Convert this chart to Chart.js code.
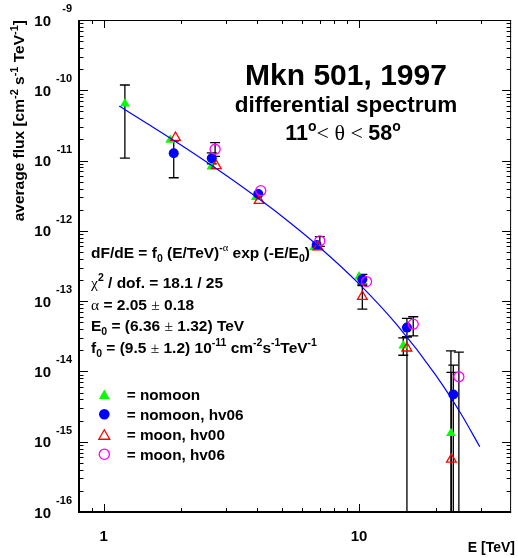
<!DOCTYPE html>
<html><head><meta charset="utf-8">
<style>html,body{margin:0;padding:0;background:#fff}canvas{display:block}</style>
<script src="https://cdn.jsdelivr.net/npm/chart.js@4.4.1/dist/chart.umd.min.js"></script>
</head><body>
<canvas id="c" width="518" height="558"></canvas>
<script>
// ---- data ----
const nomoonE    = [1.21, 1.82, 2.64, 3.94, 6.66, 10.0, 14.9, 22.9];
const nomoonF    = [6.45e-11, 1.96e-11, 8.2e-12, 3.0e-12, 5.8e-13, 2.23e-13, 2.33e-14, 1.32e-15];
const nomoonLo   = [1.08e-11, null, null, null, null, null, 1.7e-14, 1e-17];
const nomoonHi   = [1.19e-10, null, null, null, null, null, 3.0e-14, 1.96e-14];

const hv06E      = [1.88, 2.65, 4.03, 6.82, 10.3, 15.4, 23.4];
const hv06F      = [1.27e-11, 1.08e-11, 3.35e-12, 6.3e-13, 2.05e-13, 4.2e-14, 4.7e-15];
const hv06Lo     = [5.7e-12, 9.0e-12, null, null, 1.75e-13, 3.1e-14, 1e-17];
const hv06Hi     = [1.9e-11, 1.29e-11, null, null, 2.4e-13, 5.7e-14, 1.23e-14];

const moonE      = [1.91, 2.76, 4.06, 6.9, 10.3, 15.4, 23.0];
const moonF      = [2.12e-11, 8.4e-12, 2.69e-12, 5.9e-13, 1.16e-13, 2.14e-14, 5.6e-16];
const moonLo     = [null, null, null, null, 7.7e-14, 1e-17, 1e-17];
const moonHi     = [null, null, null, null, 1.66e-13, 3.1e-14, 9.7e-15];

const moonHv06E  = [2.73, 4.12, 7.02, 10.7, 16.3, 24.6];
const moonHv06F  = [1.45e-11, 3.73e-12, 7.2e-13, 1.9e-13, 4.7e-14, 8.4e-15];
const moonHv06Lo = [1.15e-11, null, 6.0e-13, null, 3.2e-14, 1e-17];
const moonHv06Hi = [1.8e-11, null, 8.3e-13, null, 6.0e-14, 1.88e-14];

const fitE    = [1.15, 1.5, 2, 3, 4, 5, 7, 10, 14, 20, 25, 29.7];
const fitFlux = [5.96e-11, 3.27e-11, 1.68e-11, 6.24e-12, 2.95e-12, 1.60e-12, 5.85e-13, 1.76e-13, 4.70e-14, 8.81e-15, 2.54e-15, 8.5e-16];

const seriesLabels = ["= nomoon", "= nomoon, hv06", "= moon, hv00", "= moon, hv06"];
const yTickExponents = [-16, -15, -14, -13, -12, -11, -10, -9];
const xTickLabels = [1, 10];
const xMinorTicks = [0.9, 2, 3, 4, 5, 6, 7, 8, 9, 20, 30];

const X_MIN = 0.8, X_MAX = 39.4, Y_MIN = 1e-16, Y_MAX = 1e-9;

const pts = (xs, ys) => xs.map((v, i) => ({x: v, y: ys[i]}));
const B = s => `bold ${s}px "Liberation Sans", Arial, Helvetica, sans-serif`;
const S = s => `${s}px "Liberation Serif", "DejaVu Serif", serif`;

const errSets = [
  {e: nomoonE, lo: nomoonLo, hi: nomoonHi},
  {e: hv06E, lo: hv06Lo, hi: hv06Hi},
  {e: moonE, lo: moonLo, hi: moonHi},
  {e: moonHv06E, lo: moonHv06Lo, hi: moonHv06Hi},
];

function rich(ctx, x, y, segs, align) {
  let w = 0;
  segs.forEach(s => { ctx.font = s.f; s.w = ctx.measureText(s.t).width; w += s.w; });
  let cx = align === 'center' ? x - w / 2 : align === 'right' ? x - w : x;
  ctx.textAlign = 'left'; ctx.textBaseline = 'alphabetic';
  segs.forEach(s => { ctx.font = s.f; ctx.fillText(s.t, cx, y + (s.dy || 0)); cx += s.w; });
  return w;
}
function seg(t, f, dy) { return {t, f, dy: dy || 0}; }

function tri(ctx, cx, cy, r, fill, stroke) {
  ctx.beginPath();
  ctx.moveTo(cx, cy - r);
  ctx.lineTo(cx + 0.866 * r, cy + 0.5 * r);
  ctx.lineTo(cx - 0.866 * r, cy + 0.5 * r);
  ctx.closePath();
  if (fill) { ctx.fillStyle = fill; ctx.fill(); }
  if (stroke) { ctx.strokeStyle = stroke; ctx.lineWidth = 1.3; ctx.stroke(); }
}
function circ(ctx, cx, cy, r, fill, stroke) {
  ctx.beginPath(); ctx.arc(cx, cy, r, 0, Math.PI * 2);
  if (fill) { ctx.fillStyle = fill; ctx.fill(); }
  if (stroke) { ctx.strokeStyle = stroke; ctx.lineWidth = 1.3; ctx.stroke(); }
}

const errorBars = {
  id: 'errorBars',
  beforeDatasetsDraw(chart) {
    const {ctx, chartArea: a, scales: {x, y}} = chart;
    ctx.save();
    ctx.beginPath(); ctx.rect(a.left, a.top, a.right - a.left, a.bottom - a.top); ctx.clip();
    ctx.strokeStyle = '#000'; ctx.lineWidth = 1.3;
    errSets.forEach(s => s.e.forEach((e, i) => {
      if (s.lo[i] == null) return;
      const px = x.getPixelForValue(e);
      const ph = y.getPixelForValue(s.hi[i]);
      const pl = y.getPixelForValue(s.lo[i]);
      ctx.beginPath();
      ctx.moveTo(px, ph); ctx.lineTo(px, pl);
      ctx.moveTo(px - 5, ph); ctx.lineTo(px + 5, ph);
      ctx.moveTo(px - 5, pl); ctx.lineTo(px + 5, pl);
      ctx.stroke();
    }));
    ctx.restore();
  }
};

const decor = {
  id: 'decor',
  afterDraw(chart) {
    const {ctx, chartArea: a, scales: {x, y}} = chart;
    ctx.save();
    ctx.fillStyle = '#000'; ctx.strokeStyle = '#000';
    // frame
    ctx.lineWidth = 1;
    ctx.strokeRect(a.left + 0.5, a.top + 0.5, a.right - a.left - 1, a.bottom - a.top - 1);
    ctx.lineWidth = 2;
    ctx.beginPath();
    ctx.moveTo(a.left, a.top); ctx.lineTo(a.left, a.bottom); ctx.lineTo(a.right, a.bottom);
    ctx.stroke();
    // y ticks
    ctx.lineWidth = 1;
    ctx.beginPath();
    yTickExponents.forEach(n => {
      for (let k = 1; k <= 9; k++) {
        if (n === yTickExponents[yTickExponents.length - 1] && k > 1) break;
        const py = Math.round(y.getPixelForValue(k * Math.pow(10, n))) + 0.5;
        const len = k === 1 ? 9 : 4.5;
        ctx.moveTo(a.left, py); ctx.lineTo(a.left + len, py);
        ctx.moveTo(a.right, py); ctx.lineTo(a.right - len, py);
      }
    });
    // x ticks
    xTickLabels.forEach(v => {
      const px = Math.round(x.getPixelForValue(v)) + 0.5;
      ctx.moveTo(px, a.bottom); ctx.lineTo(px, a.bottom - 8);
      ctx.moveTo(px, a.top); ctx.lineTo(px, a.top + 8);
    });
    xMinorTicks.forEach(v => {
      const px = Math.round(x.getPixelForValue(v)) + 0.5;
      ctx.moveTo(px, a.bottom); ctx.lineTo(px, a.bottom - 4);
      ctx.moveTo(px, a.top); ctx.lineTo(px, a.top + 4);
    });
    ctx.stroke();

    // y tick labels
    yTickExponents.forEach(n => {
      const py = y.getPixelForValue(Math.pow(10, n));
      ctx.font = B(15); ctx.textAlign = 'right'; ctx.textBaseline = 'alphabetic';
      ctx.fillText('10', 51, py + 5.5);
      ctx.font = B(11);
      ctx.fillText(String(n), 72, py - 8);
    });
    // x tick labels
    xTickLabels.forEach(v => {
      const px = x.getPixelForValue(v);
      ctx.font = B(15); ctx.textAlign = 'center'; ctx.textBaseline = 'alphabetic';
      ctx.fillText(String(v), px, 540.5);
    });
    // x title
    ctx.font = B(14); ctx.textAlign = 'right';
    ctx.fillText('E [TeV]', 515, 551.5);

    // y title (rotated)
    ctx.save();
    const ysegs = [seg('average flux [cm', B(15.5)), seg('-2', B(11), -6.5), seg(' s', B(15.5)),
      seg('-1', B(11), -6.5), seg(' TeV', B(15.5)), seg('-1', B(11), -6.5), seg(']', B(15.5))];
    let tw = 0; ysegs.forEach(s => { ctx.font = s.f; tw += ctx.measureText(s.t).width; });
    ctx.translate(24, 20 + tw);
    ctx.rotate(-Math.PI / 2);
    rich(ctx, 0, 0, ysegs, 'left');
    ctx.restore();

    // title block
    ctx.font = B(30); ctx.textAlign = 'center';
    ctx.fillText('Mkn 501, 1997', 346, 85);
    ctx.font = B(22.5);
    ctx.fillText('differential spectrum', 346, 111.5);
    rich(ctx, 343, 139.5, [seg('11', B(21.5)), seg('o', B(14), -9), seg('< \u03b8 < ', S(22)),
      seg('58', B(21.5)), seg('o', B(14), -9)], 'center');

    // fit annotation
    const L = 91, f = B(15.5), fs = B(10.5), sy = S(15.5);
    rich(ctx, L, 258.3, [seg('dF/dE = f', f), seg('0', fs, 4), seg(' (E/TeV)', f), seg('-', fs, -7),
      seg('\u03b1', S(10.5), -7), seg(' exp (-E/E', f), seg('0', fs, 4), seg(')', f)]);
    rich(ctx, L, 288.3, [seg('\u03c7', sy), seg('2', fs, -7), seg(' / dof. = 18.1 / 25', f)]);
    rich(ctx, L, 310, [seg('\u03b1', sy), seg(' = 2.05 ', f), seg('\u00b1', sy), seg(' 0.18', f)]);
    rich(ctx, L, 331.3, [seg('E', f), seg('0', fs, 4), seg(' = (6.36 ', f), seg('\u00b1', sy), seg(' 1.32) TeV', f)]);
    rich(ctx, L, 352.8, [seg('f', f), seg('0', fs, 4), seg(' = (9.5 ', f), seg('\u00b1', sy), seg(' 1.2) 10', f),
      seg('-11', fs, -7), seg(' cm', f), seg('-2', fs, -7), seg('s', f), seg('-1', fs, -7), seg('TeV', f), seg('-1', fs, -7)]);

    // legend
    const lx = 104.3, tx = 126.7, ly = [394.5, 414.3, 434.8, 454.3];
    tri(ctx, lx, ly[0] + 1.3, 6.3, '#00ff00', null);
    circ(ctx, lx, ly[1], 5.3, '#0000ff', null);
    tri(ctx, lx, ly[2] + 1.3, 6.3, null, '#ff0000');
    circ(ctx, lx, ly[3], 5.1, null, '#ff00ff');
    ctx.fillStyle = '#000';
    seriesLabels.forEach((t, i) => {
      ctx.font = B(15.3); ctx.textAlign = 'left'; ctx.textBaseline = 'alphabetic';
      ctx.fillText(t, tx, ly[i] + 5.3);
    });
    ctx.restore();
  }
};

new Chart(document.getElementById('c'), {
  type: 'scatter',
  data: {
    datasets: [
      {label: 'fit', type: 'line', data: pts(fitE, fitFlux), borderColor: '#0000ff', borderWidth: 1.2,
        pointRadius: 0, fill: false, cubicInterpolationMode: 'monotone', order: 0},
      {label: seriesLabels[3], data: pts(moonHv06E, moonHv06F), pointStyle: 'circle', pointRadius: 5,
        backgroundColor: 'rgba(0,0,0,0)', borderColor: '#ff00ff', borderWidth: 1.3, order: 1},
      {label: seriesLabels[2], data: pts(moonE, moonF), pointStyle: 'triangle', pointRadius: 5.6,
        backgroundColor: 'rgba(0,0,0,0)', borderColor: '#ff0000', borderWidth: 1.3, order: 2},
      {label: seriesLabels[1], data: pts(hv06E, hv06F), pointStyle: 'circle', pointRadius: 5,
        backgroundColor: '#0000ff', borderColor: '#0000ff', borderWidth: 0, order: 3},
      {label: seriesLabels[0], data: pts(nomoonE, nomoonF), pointStyle: 'triangle', pointRadius: 5.6,
        backgroundColor: '#00ff00', borderColor: '#00ff00', borderWidth: 0, order: 4},
    ]
  },
  options: {
    responsive: false, animation: false, events: [],
    layout: {padding: {left: 79, top: 20, right: 1, bottom: 46}},
    plugins: {legend: {display: false}, tooltip: {enabled: false}, title: {display: false}},
    scales: {
      x: {type: 'logarithmic', min: X_MIN, max: X_MAX, display: false},
      y: {type: 'logarithmic', min: Y_MIN, max: Y_MAX, display: false}
    }
  },
  plugins: [errorBars, decor]
});
</script>
</body></html>
